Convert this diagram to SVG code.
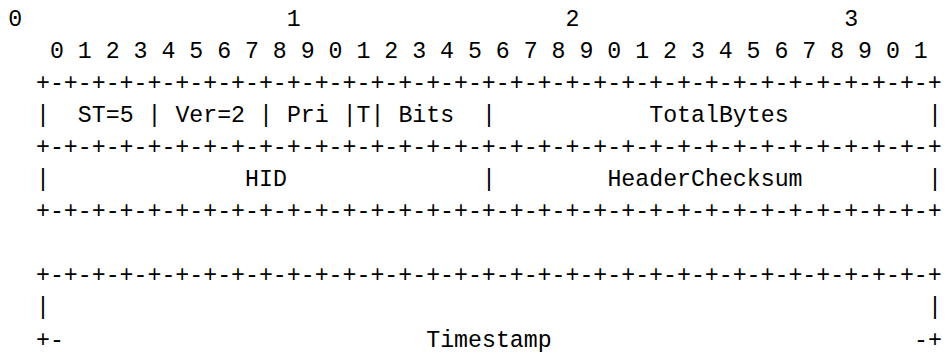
<svg xmlns="http://www.w3.org/2000/svg" width="945" height="352" viewBox="0 0 945 352">
<style>
text { font-family: "Liberation Mono", "Courier New", monospace; font-size: 23.23px; fill: #000; white-space: pre; }
</style>
<rect x="0" y="0" width="945" height="352" fill="#fff"/>
<g id="ruler">
<text x="8.14" y="25.5" xml:space="preserve">0                   1                   2                   3</text>
<text x="49.95" y="57.6" xml:space="preserve">0 1 2 3 4 5 6 7 8 9 0 1 2 3 4 5 6 7 8 9 0 1 2 3 4 5 6 7 8 9 0 1</text>
</g>
<g id="word1">
<text x="36.01" y="89.7">+-+-+-+-+-+-+-+-+-+-+-+-+-+-+-+-+-+-+-+-+-+-+-+-+-+-+-+-+-+-+-+-+</text>
<text x="36.01" y="121.8">|</text>
<text x="77.83" y="121.8">ST=5</text>
<text x="147.51" y="121.8">|</text>
<text x="175.39" y="121.8">Ver=2</text>
<text x="259.01" y="121.8">|</text>
<text x="286.89" y="121.8">Pri</text>
<text x="342.64" y="121.8">|T|</text>
<text x="398.39" y="121.8">Bits</text>
<text x="482.01" y="121.8">|</text>
<text x="649.26" y="121.8">TotalBytes</text>
<text x="928.01" y="121.8">|</text>
<text x="36.01" y="153.9">+-+-+-+-+-+-+-+-+-+-+-+-+-+-+-+-+-+-+-+-+-+-+-+-+-+-+-+-+-+-+-+-+</text>
</g>
<g id="word2">
<text x="36.01" y="186">|</text>
<text x="245.08" y="186">HID</text>
<text x="482.01" y="186">|</text>
<text x="607.45" y="186">HeaderChecksum</text>
<text x="928.01" y="186">|</text>
<text x="36.01" y="218.1">+-+-+-+-+-+-+-+-+-+-+-+-+-+-+-+-+-+-+-+-+-+-+-+-+-+-+-+-+-+-+-+-+</text>
</g>
<g id="timestamp">
<text x="36.01" y="282.3">+-+-+-+-+-+-+-+-+-+-+-+-+-+-+-+-+-+-+-+-+-+-+-+-+-+-+-+-+-+-+-+-+</text>
<text x="36.01" y="314.4">|</text>
<text x="928.01" y="314.4">|</text>
<text x="36.01" y="346.5">+-</text>
<text x="426.26" y="346.5">Timestamp</text>
<text x="914.08" y="346.5">-+</text>
</g>
</svg>
